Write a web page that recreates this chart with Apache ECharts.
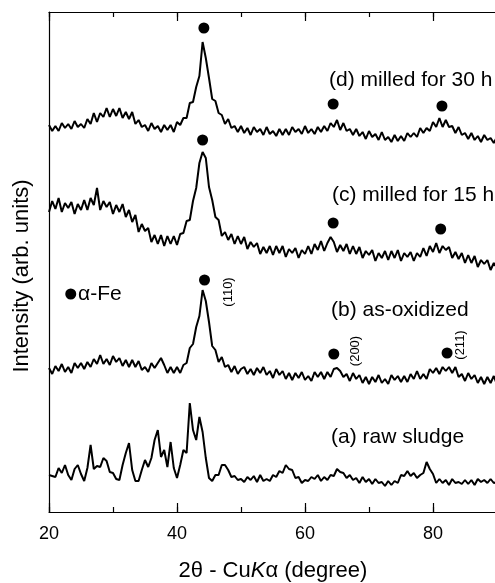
<!DOCTYPE html>
<html>
<head>
<meta charset="utf-8">
<script src="https://cdn.jsdelivr.net/npm/echarts@6/dist/echarts.min.js"></script>
<style>
  html, body { margin: 0; padding: 0; background: #fff; }
  #main { width: 495px; height: 583px; }
</style>
</head>
<body>
<div id="main"></div>
<script>
// 2theta grid (degree), shared by all patterns
var theta = [
  20,20.5,21,21.5,22,22.5,23,23.5,24,24.5,25,25.5,26,26.5,27,27.5,28,28.5,29,29.5,
  30,30.5,31,31.5,32,32.5,33,33.5,34,34.5,35,35.5,36,36.5,37,37.5,38,38.5,39,39.5,
  40,40.5,41,41.5,42,42.5,43,43.5,44,44.5,45,45.5,46,46.5,47,47.5,48,48.5,49,49.5,
  50,50.5,51,51.5,52,52.5,53,53.5,54,54.5,55,55.5,56,56.5,57,57.5,58,58.5,59,59.5,
  60,60.5,61,61.5,62,62.5,63,63.5,64,64.5,65,65.5,66,66.5,67,67.5,68,68.5,69,69.5,
  70,70.5,71,71.5,72,72.5,73,73.5,74,74.5,75,75.5,76,76.5,77,77.5,78,78.5,79,79.5,
  80,80.5,81,81.5,82,82.5,83,83.5,84,84.5,85,85.5,86,86.5,87,87.5,88,88.5,89,89.5,
  90
];

// (d) milled for 30 h
var milled30 = [
  387,381,386,381,389,384,388,383,391,385,388,384,393,388,399,390,399,395,404,395,
  403,396,404,394,400,393,400,388,392,385,387,381,389,383,386,380,387,382,387,380,
  390,387,394,394,409,410,425,436,470,454,434,413,411,399,397,388,393,384,386,380,
  386,379,384,377,385,380,383,377,385,378,381,376,383,377,383,377,385,380,383,378,
  386,379,383,378,385,380,386,381,389,385,392,382,389,381,383,377,383,376,380,373,
  381,375,378,372,380,372,375,370,377,371,376,371,379,375,379,375,384,379,384,381,
  390,385,394,385,392,385,386,379,385,377,379,373,379,372,376,370,377,372,374,369,
  375
];

// (c) milled for 15 h
var milled15 = [
  300,311,303,314,300,309,304,310,298,308,302,312,302,314,307,324,302,311,305,310,
  298,307,300,308,295,302,290,297,280,288,281,284,270,277,268,277,266,276,268,276,
  267,278,279,291,292,311,324,349,360,354,325,312,295,292,276,280,272,278,268,276,
  268,275,263,270,265,269,258,265,259,266,257,266,259,266,255,263,259,264,254,262,
  258,266,258,268,262,271,261,269,275,270,260,267,261,268,258,266,258,265,254,261,
  257,262,251,259,254,261,252,261,254,262,251,259,255,260,251,259,255,264,256,266,
  260,269,259,266,262,265,254,260,253,259,249,257,249,256,245,252,248,252,242,249,
  244
];

// (b) as-oxidized
var oxidized = [
  144,138,146,141,148,140,145,139,149,144,149,143,150,145,153,148,157,148,153,147,
  156,150,154,146,152,145,152,145,151,142,145,140,149,144,149,154,147,139,145,139,
  145,139,147,149,164,168,185,196,222,211,190,166,162,150,155,145,147,140,146,138,
  143,145,138,143,137,144,139,145,137,141,134,143,137,141,133,139,132,139,134,140,
  132,136,131,140,135,140,133,140,135,143,144,141,135,138,131,139,133,137,129,135,
  128,135,130,137,129,133,128,137,132,136,130,136,130,138,133,141,133,138,133,143,
  139,144,138,145,141,145,139,145,135,138,131,139,133,137,129,135,128,135,129,136,
  127
];

// (a) raw sludge
var rawSludge = [
  37,36,35,44,39,47,37,32,43,47,38,31,44,67,43,46,45,54,51,40,
  39,33,32,47,59,69,42,31,31,42,52,45,54,72,82,55,62,45,70,44,
  34,47,62,59,109,82,72,95,80,54,34,31,37,37,47,47,42,35,36,32,
  33,30,35,32,36,30,37,31,33,31,37,35,41,39,47,43,42,34,35,29,
  32,31,35,33,37,31,35,32,37,36,43,40,39,34,37,32,34,29,35,30,
  33,28,33,29,30,26,31,27,31,29,37,36,41,36,39,34,37,39,50,43,
  38,29,33,29,32,27,33,29,30,28,32,28,32,27,33,30,32,29,33,29,
  30
];

// alpha-Fe peak markers (last one is the legend dot)
var feTheta = [44.2, 64.4, 81.4, 44.0, 64.4, 81.2, 44.3, 64.5, 82.2, 23.4];
var feValue = [484, 408, 406, 372, 289, 283, 232, 158, 159, 218];

var sampleNames = ['(d) milled for 30 h', '(c) milled for 15 h', '(b) as-oxidized', '(a) raw sludge'];
var hklNames = ['(110)', '(200)', '(211)'];

function pairs(xs, ys) {
  var out = [];
  for (var i = 0; i < xs.length; i++) {
    out.push([xs[i], ys[i]]);
  }
  return out;
}

var FONT = 'Liberation Sans, Arial, Helvetica, sans-serif';

function traceSeries(name, values) {
  return {
    name: name,
    type: 'line',
    xAxisIndex: 0,
    yAxisIndex: 0,
    showSymbol: false,
    symbol: 'none',
    lineStyle: { color: '#000', width: 2 },
    data: pairs(theta, values)
  };
}

function xAxisDef(pos, interval, tickLen, withLine, withLabel) {
  return {
    type: 'value',
    position: pos,
    min: 20,
    max: 90,
    interval: interval,
    axisLine: { show: withLine, lineStyle: { color: '#000', width: 1.2 } },
    axisTick: { show: true, inside: true, length: tickLen, lineStyle: { color: '#000', width: 1.2 } },
    axisLabel: {
      show: withLabel,
      showMaxLabel: false,
      color: '#000',
      fontSize: 18,
      fontFamily: FONT,
      margin: 13
    },
    splitLine: { show: false }
  };
}

var xBottom = xAxisDef('bottom', 20, 9, true, true);
xBottom.name = '2\u03b8 - Cu{k|K}\u03b1 (degree)';
xBottom.nameLocation = 'middle';
xBottom.nameGap = 48;
xBottom.nameTextStyle = {
  color: '#000', fontSize: 22, fontFamily: FONT,
  rich: { k: { fontStyle: 'italic', fontSize: 22, fontFamily: FONT, color: '#000' } }
};

var chart = echarts.init(document.getElementById('main'), null, { renderer: 'canvas' });

chart.setOption({
  animation: false,
  backgroundColor: '#fff',
  grid: { left: 49, right: -2, top: 12, bottom: 71, containLabel: false, outerBoundsMode: 'none' },
  xAxis: [
    xBottom,
    xAxisDef('bottom', 10, 5, false, false),
    xAxisDef('top', 20, 9, true, false),
    xAxisDef('top', 10, 5, false, false)
  ],
  yAxis: [{
    type: 'value',
    min: 0,
    max: 500,
    axisLine: { show: true, lineStyle: { color: '#000', width: 1.2 } },
    axisTick: { show: false },
    axisLabel: { show: false },
    splitLine: { show: false }
  }],
  graphic: [
    { type: 'text', left: 329, top: 70, style: { text: sampleNames[0], font: '21px ' + FONT, fill: '#000' } },
    { type: 'text', left: 332, top: 185, style: { text: sampleNames[1], font: '21px ' + FONT, fill: '#000' } },
    { type: 'text', left: 331, top: 300, style: { text: sampleNames[2], font: '21px ' + FONT, fill: '#000' } },
    { type: 'text', left: 331, top: 427, style: { text: sampleNames[3], font: '21px ' + FONT, fill: '#000' } },
    { type: 'text', x: 78, y: 294, style: { text: '\u03b1-Fe', font: '21px ' + FONT, fill: '#000', verticalAlign: 'middle' } },
    { type: 'text', x: 228, y: 292, rotation: Math.PI / 2, style: { text: hklNames[0], font: '13px ' + FONT, fill: '#000', align: 'center', verticalAlign: 'middle' } },
    { type: 'text', x: 355, y: 351, rotation: Math.PI / 2, style: { text: hklNames[1], font: '13px ' + FONT, fill: '#000', align: 'center', verticalAlign: 'middle' } },
    { type: 'text', x: 460, y: 345, rotation: Math.PI / 2, style: { text: hklNames[2], font: '13px ' + FONT, fill: '#000', align: 'center', verticalAlign: 'middle' } },
    { type: 'text', x: 22, y: 276, rotation: Math.PI / 2, style: { text: 'Intensity (arb. units)', font: '22px ' + FONT, fill: '#000', align: 'center', verticalAlign: 'middle' } }
  ],
  series: [
    traceSeries('(d)', milled30),
    traceSeries('(c)', milled15),
    traceSeries('(b)', oxidized),
    traceSeries('(a)', rawSludge),
    {
      name: 'alpha-Fe',
      type: 'scatter',
      xAxisIndex: 0,
      yAxisIndex: 0,
      symbol: 'circle',
      symbolSize: 11,
      itemStyle: { color: '#000', opacity: 1 },
      data: pairs(feTheta, feValue)
    }
  ]
});
</script>
</body>
</html>
